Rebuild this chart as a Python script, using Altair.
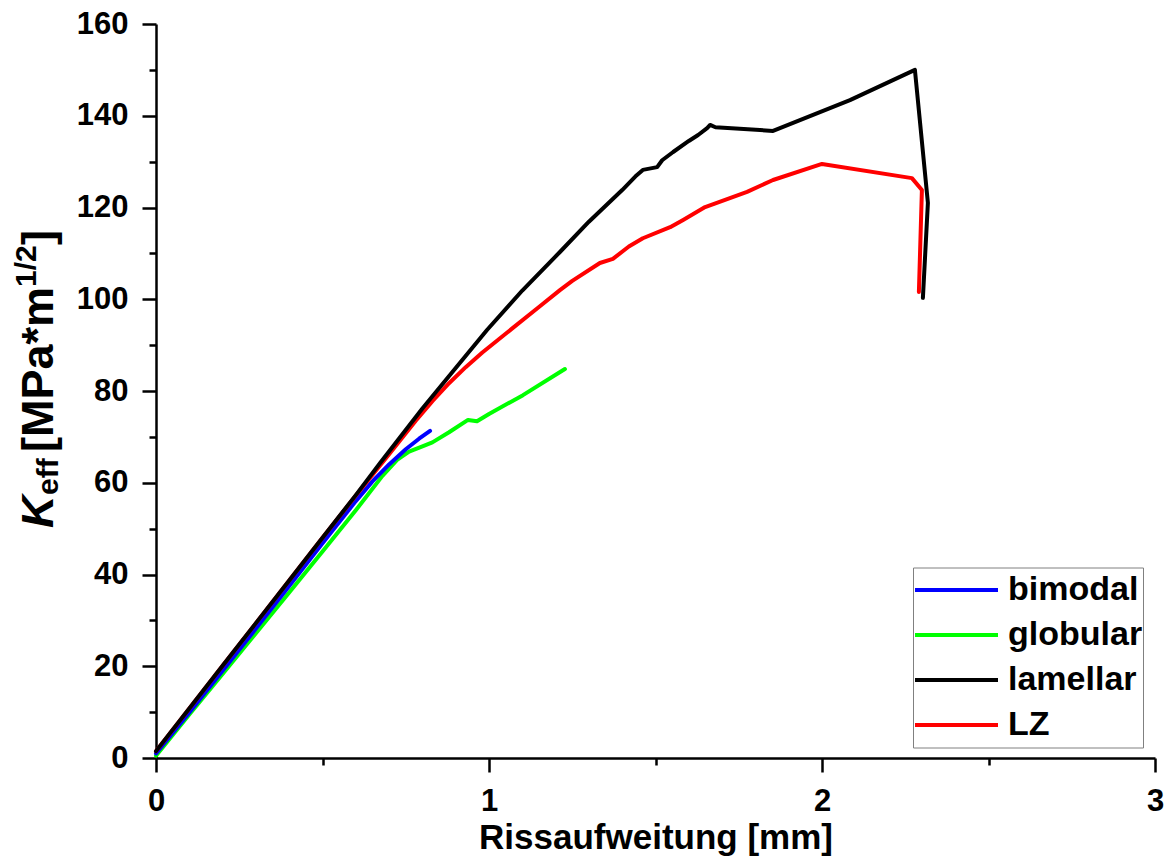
import altair as alt
import pandas as pd

FONT = "Liberation Sans"

series_names = ["bimodal", "globular", "lamellar", "LZ"]
series_colors = ["#0000ff", "#00ff00", "#000000", "#ff0000"]
draw_order = ["globular", "bimodal", "LZ", "lamellar"]

bimodal_x = [0.0, 0.1, 0.2, 0.3, 0.4, 0.5, 0.6, 0.65, 0.7, 0.75, 0.79, 0.823]
bimodal_y = [1.0, 9.9, 19.0, 28.2, 37.5, 46.8, 56.0, 60.3, 64.0, 67.3, 69.6, 71.3]

globular_x = [0.0, 0.1, 0.2, 0.3, 0.4, 0.5, 0.6, 0.68, 0.724, 0.76, 0.802, 0.83,
              0.88, 0.937, 0.964, 1.0, 1.102, 1.228]
globular_y = [0.5, 9.5, 18.3, 27.2, 36.1, 45.0, 54.0, 61.5, 65.0, 66.8, 68.0, 68.8,
              71.0, 73.7, 73.4, 75.0, 79.1, 84.8]

lamellar_x = [0.0, 0.1, 0.2, 0.3, 0.4, 0.5, 0.6, 0.673, 0.8, 0.9, 0.994, 1.1, 1.213,
              1.3, 1.4, 1.44, 1.462, 1.505, 1.52, 1.553, 1.6, 1.628, 1.655, 1.664,
              1.68, 1.853, 2.084, 2.279, 2.318, 2.303]
lamellar_y = [1.5, 10.8, 20.1, 29.4, 38.7, 48.0, 57.3, 64.3, 76.2, 85.0, 93.3, 101.9,
              110.3, 116.9, 123.8, 126.8, 128.2, 128.8, 130.3, 132.1, 134.5, 135.8,
              137.3, 138.0, 137.5, 136.7, 143.4, 150.0, 121.0, 100.3]

lz_x = [0.0, 0.1, 0.2, 0.3, 0.4, 0.5, 0.6, 0.7, 0.78, 0.83, 0.88, 0.93, 0.98, 1.069,
        1.15, 1.213, 1.25, 1.333, 1.372, 1.42, 1.462, 1.544, 1.583, 1.649, 1.775,
        1.853, 2.0, 2.27, 2.3, 2.291]
lz_y = [1.5, 10.8, 20.1, 29.4, 38.7, 48.0, 57.2, 66.2, 73.5, 77.8, 81.7, 85.2, 88.4,
        93.6, 98.3, 102.0, 104.0, 107.9, 108.8, 111.5, 113.3, 115.7, 117.3, 120.1,
        123.4, 126.0, 129.5, 126.4, 123.8, 101.6]

x_major = [0, 1, 2, 3]
x_minor = [0.5, 1.5, 2.5]
y_major = [0, 20, 40, 60, 80, 100, 120, 140, 160]
y_minor = [10, 30, 50, 70, 90, 110, 130, 150]

x_title = "Rissaufweitung [mm]"
y_title_parts = ["K", "eff", "[MPa*m", "1/2", "]"]

rows = []
for name, xs, ys in [("bimodal", bimodal_x, bimodal_y),
                     ("globular", globular_x, globular_y),
                     ("lamellar", lamellar_x, lamellar_y),
                     ("LZ", lz_x, lz_y)]:
    for i, (xv, yv) in enumerate(zip(xs, ys)):
        rows.append({"series": name, "x": xv, "y": yv, "i": i})
df = pd.DataFrame(rows)

xscale = alt.Scale(domain=[0, 3], nice=False, zero=False)
yscale = alt.Scale(domain=[0, 160], nice=False, zero=False)

axis_common = dict(grid=False, domainColor="black", tickColor="black",
                   labelColor="black", tickWidth=2.5, domainWidth=2.5,
                   labelFont=FONT, labelFontWeight="bold", labelFontSize=31,
                   labelPadding=14, labelFlush=False, labelOverlap=False)

x_axis_major = alt.Axis(values=x_major, title=x_title, orient="bottom", tickSize=14,
                        titleFont=FONT, titleFontWeight="bold", titleFontSize=35,
                        titleColor="black", titleY=90, titleBaseline="alphabetic",
                        format="d", **axis_common)
y_axis_major = alt.Axis(values=y_major, title=None, orient="left", tickSize=14,
                        format="d", **axis_common)

x_axis_minor = alt.Axis(values=x_minor, title=None, orient="bottom", tickSize=7,
                        labels=False, domain=False, grid=False, tickColor="black",
                        tickWidth=2.5)
y_axis_minor = alt.Axis(values=y_minor, title=None, orient="left", tickSize=7,
                        labels=False, domain=False, grid=False, tickColor="black",
                        tickWidth=2.5)

legend = alt.Legend(title=None, orient="none", legendX=757, legendY=543.5,
                    symbolType="stroke", symbolSize=83 * 83, symbolStrokeWidth=4,
                    clipHeight=45, rowPadding=0, padding=0, labelOffset=8,
                    labelFont=FONT, labelFontWeight="bold", labelFontSize=34,
                    labelColor="black", strokeColor="#808080", fillColor="white",
                    values=series_names)

color = alt.Color("series:N", scale=alt.Scale(domain=series_names, range=series_colors),
                  legend=legend)

layers = []
# minor-tick axes layer (invisible line)
layers.append(
    alt.Chart(df).transform_filter(alt.datum.series == "bimodal")
    .mark_line(opacity=0)
    .encode(x=alt.X("x:Q", scale=xscale, axis=x_axis_minor),
            y=alt.Y("y:Q", scale=yscale, axis=y_axis_minor),
            order="i:Q")
)
for k, name in enumerate(draw_order):
    layers.append(
        alt.Chart(df).transform_filter(alt.datum.series == name)
        .mark_line(strokeWidth=4, strokeCap="round", strokeJoin="round")
        .encode(x=alt.X("x:Q", scale=xscale, axis=x_axis_major if k == 0 else None),
                y=alt.Y("y:Q", scale=yscale, axis=y_axis_major if k == 0 else None),
                color=color,
                order="i:Q")
    )

# y-axis title built from pieces (italic K, subscript eff, superscript 1/2)
piece_style = [
    dict(fontSize=45, fontStyle="italic", x=-103, y=504),
    dict(fontSize=30, fontStyle="normal", x=-98, y=471),
    dict(fontSize=45, fontStyle="normal", x=-103, y=428),
    dict(fontSize=30, fontStyle="normal", x=-120, y=263),
    dict(fontSize=45, fontStyle="normal", x=-103, y=221),
]
for txt, st in zip(y_title_parts, piece_style):
    layers.append(
        alt.Chart(pd.DataFrame({"t": [txt]}))
        .mark_text(angle=270, align="left", baseline="alphabetic", font=FONT,
                   fontWeight="bold", fontStyle=st["fontStyle"],
                   fontSize=st["fontSize"], color="black")
        .encode(x=alt.value(st["x"]), y=alt.value(st["y"]), text="t:N")
    )

chart = (
    alt.layer(*layers)
    .resolve_scale(x="shared", y="shared")
    .resolve_axis(x="independent", y="independent")
    .properties(width=999, height=734,
                autosize=alt.AutoSizeParams(type="none"),
                padding={"left": 156, "top": 24, "right": 13, "bottom": 98},
                background="white")
    .configure_view(stroke=None)
)

chart.save("out.html", embed_options={"renderer": "svg", "actions": False})
